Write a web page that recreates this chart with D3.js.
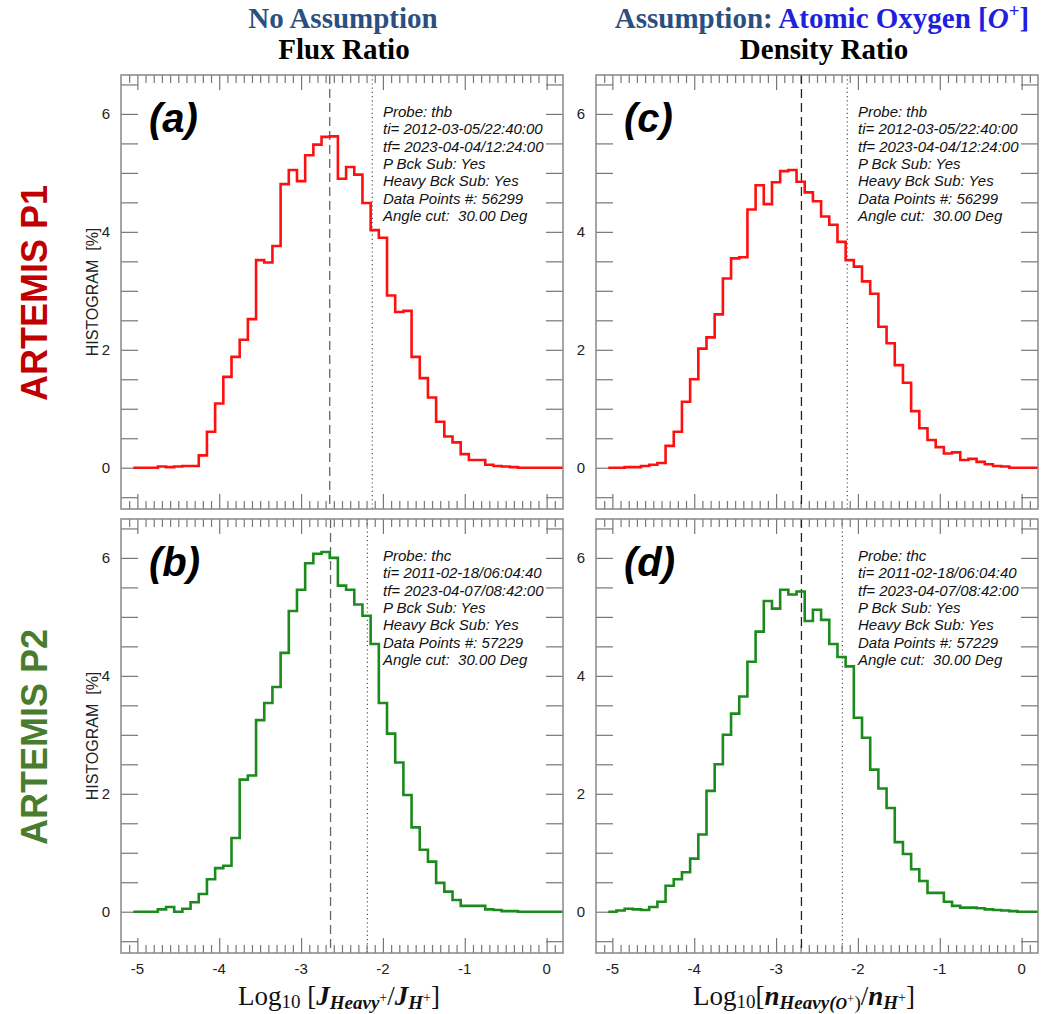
<!DOCTYPE html>
<html>
<head>
<meta charset="utf-8">
<script src="https://cdn.jsdelivr.net/npm/d3@7"></script>
<style>
  body { margin: 0; background: #fff; }
  svg { display: block; }
</style>
</head>
<body>
<div id="chart"></div>
<script>
// =========================
// DATA
// =========================
const binCenters = [
  -5.0, -4.9, -4.8, -4.7, -4.6, -4.5, -4.4, -4.3, -4.2, -4.1,
  -4.0, -3.9, -3.8, -3.7, -3.6, -3.5, -3.4, -3.3, -3.2, -3.1,
  -3.0, -2.9, -2.8, -2.7, -2.6, -2.5, -2.4, -2.3, -2.2, -2.1,
  -2.0, -1.9, -1.8, -1.7, -1.6, -1.5, -1.4, -1.3, -1.2, -1.1,
  -1.0, -0.9, -0.8, -0.7, -0.6, -0.5, -0.4, -0.3, -0.2, -0.1,
  0.0, 0.1, 0.2
];
const binWidth = 0.1;

// (a) P1 flux ratio
const histA = [
  0, 0, 0, 0.02, 0.01, 0.02, 0.03, 0.03, 0.21, 0.61,
  1.09, 1.54, 1.88, 2.17, 2.52, 3.52, 3.48, 3.76, 4.81, 5.05,
  4.86, 5.30, 5.48, 5.61, 5.62, 4.90, 5.10, 4.97, 4.49, 4.03,
  3.90, 2.92, 2.64, 2.66, 1.88, 1.52, 1.19, 0.78, 0.53, 0.43,
  0.23, 0.13, 0.13, 0.05, 0.03, 0.02, 0.01, 0, 0, 0,
  0, 0, 0
];
// (b) P2 flux ratio
const histB = [
  0, 0, 0, 0.04, 0.08, 0, 0.05, 0.16, 0.30, 0.55,
  0.74, 0.78, 1.25, 2.24, 2.31, 3.25, 3.54, 3.81, 4.39, 5.10,
  5.46, 5.91, 6.07, 6.10, 6.00, 5.53, 5.46, 5.21, 5.02, 4.54,
  3.54, 3.02, 2.53, 1.98, 1.43, 1.05, 0.85, 0.49, 0.34, 0.20,
  0.10, 0.10, 0.10, 0.04, 0.03, 0.01, 0.01, 0, 0, 0,
  0, 0, 0
];
// (c) P1 density ratio
const histC = [
  0, 0, 0.01, 0.01, 0.03, 0.05, 0.08, 0.37, 0.61, 1.12,
  1.50, 2.02, 2.21, 2.60, 3.21, 3.55, 3.57, 4.38, 4.79, 4.47,
  4.84, 5.03, 5.05, 4.85, 4.67, 4.52, 4.26, 4.12, 3.83, 3.52,
  3.41, 3.16, 2.95, 2.39, 2.11, 1.74, 1.44, 0.96, 0.67, 0.47,
  0.35, 0.24, 0.26, 0.13, 0.15, 0.10, 0.06, 0.03, 0.02, 0,
  0, 0, 0
];
// (d) P2 density ratio
const histD = [
  0, 0.02, 0.05, 0.04, 0.03, 0.08, 0.17, 0.44, 0.55, 0.67,
  0.90, 1.31, 2.05, 2.50, 3.00, 3.36, 3.65, 4.24, 4.75, 5.27,
  5.14, 5.46, 5.38, 5.43, 4.93, 5.12, 4.95, 4.54, 4.32, 4.16,
  3.29, 2.95, 2.41, 2.09, 1.76, 1.18, 0.98, 0.72, 0.52, 0.32,
  0.32, 0.17, 0.10, 0.07, 0.07, 0.06, 0.04, 0.03, 0.02, 0.01,
  0, 0, 0
];

// vertical reference lines (a, b, c, d)
const dashedX = [-2.65, -2.64, -2.69, -2.69];
const dottedX = [-2.13, -2.19, -2.13, -2.19];

const xMajorTicks = [-5, -4, -3, -2, -1, 0];
const xMinorTicks = [
  -5.1, -4.9, -4.8, -4.7, -4.6, -4.5, -4.4, -4.3, -4.2, -4.1,
  -3.9, -3.8, -3.7, -3.6, -3.5, -3.4, -3.3, -3.2, -3.1,
  -2.9, -2.8, -2.7, -2.6, -2.5, -2.4, -2.3, -2.2, -2.1,
  -1.9, -1.8, -1.7, -1.6, -1.5, -1.4, -1.3, -1.2, -1.1,
  -0.9, -0.8, -0.7, -0.6, -0.5, -0.4, -0.3, -0.2, -0.1, 0.1
];
const yTicks = [-0.5, 0, 0.5, 1, 1.5, 2, 2.5, 3, 3.5, 4, 4.5, 5, 5.5, 6, 6.5];
const yLabelTicks = [0, 2, 4, 6];

const infoP1 = [
  "Probe: thb",
  "ti= 2012-03-05/22:40:00",
  "tf= 2023-04-04/12:24:00",
  "P Bck Sub: Yes",
  "Heavy Bck Sub: Yes",
  "Data Points #: 56299",
  "Angle cut:  30.00 Deg"
];
const infoP2 = [
  "Probe: thc",
  "ti= 2011-02-18/06:04:40",
  "tf= 2023-04-07/08:42:00",
  "P Bck Sub: Yes",
  "Heavy Bck Sub: Yes",
  "Data Points #: 57229",
  "Angle cut:  30.00 Deg"
];

// =========================
// LAYOUT
// =========================
const W = 1047, H = 1014;
const panelW = 442, panelH = 434;
const colX = [121, 596];
const rowY = [75, 519];

const RED = "#ff1010";
const GREEN = "#1c8a1c";

const panels = [
  { id: "a", col: 0, row: 0, values: histA, color: RED,   dash: dashedX[0], dot: dottedX[0], info: infoP1, dashColor: "#666" },
  { id: "b", col: 0, row: 1, values: histB, color: GREEN, dash: dashedX[1], dot: dottedX[1], info: infoP2, dashColor: "#666" },
  { id: "c", col: 1, row: 0, values: histC, color: RED,   dash: dashedX[2], dot: dottedX[2], info: infoP1, dashColor: "#222" },
  { id: "d", col: 1, row: 1, values: histD, color: GREEN, dash: dashedX[3], dot: dottedX[3], info: infoP2, dashColor: "#222" }
];

const svg = d3.select("#chart")
  .append("svg")
  .attr("width", W)
  .attr("height", H)
  .style("font-family", "'Liberation Sans', Arial, sans-serif");

const x = d3.scaleLinear().domain([-5.2, 0.2]).range([0, panelW]);
const y = d3.scaleLinear().domain([-0.7, 6.66]).range([panelH, 0]);

const stepLine = d3.line()
  .x(d => x(d.x0))
  .y(d => y(d.v))
  .curve(d3.curveStepAfter);

// =========================
// PANELS
// =========================
panels.forEach(p => {
  const g = svg.append("g")
    .attr("transform", `translate(${colX[p.col]},${rowY[p.row]})`);

  g.append("clipPath")
    .attr("id", `clip-${p.id}`)
    .append("rect")
    .attr("width", panelW)
    .attr("height", panelH);

  // ticks (all pointing inward)
  const tickStyle = sel => {
    sel.select(".domain").remove();
    sel.selectAll("line").attr("stroke", "#777").attr("stroke-width", 1.2);
    sel.selectAll("text").remove();
  };

  g.append("g").call(d3.axisLeft(y).tickValues(yTicks).tickSize(-17)).call(tickStyle);
  g.append("g").attr("transform", `translate(${panelW},0)`)
    .call(d3.axisRight(y).tickValues(yTicks).tickSize(-17)).call(tickStyle);

  g.append("g").call(d3.axisTop(x).tickValues(xMajorTicks).tickSize(-15)).call(tickStyle);
  g.append("g").call(d3.axisTop(x).tickValues(xMinorTicks).tickSize(-8)).call(tickStyle);
  g.append("g").attr("transform", `translate(0,${panelH})`)
    .call(d3.axisBottom(x).tickValues(xMajorTicks).tickSize(-15)).call(tickStyle);
  g.append("g").attr("transform", `translate(0,${panelH})`)
    .call(d3.axisBottom(x).tickValues(xMinorTicks).tickSize(-8)).call(tickStyle);

  // y tick labels
  g.selectAll(".ylab")
    .data(yLabelTicks)
    .enter()
    .append("text")
    .attr("x", -11)
    .attr("y", d => y(d))
    .attr("dy", "0.35em")
    .attr("text-anchor", "end")
    .style("font-size", "15px")
    .style("fill", "#222")
    .text(d => d);

  // x tick labels, bottom row only
  if (p.row === 1) {
    g.selectAll(".xlab")
      .data(xMajorTicks)
      .enter()
      .append("text")
      .attr("x", d => x(d))
      .attr("y", panelH + 21)
      .attr("text-anchor", "middle")
      .style("font-size", "15px")
      .style("fill", "#222")
      .text(d => d < 0 ? "-" + Math.abs(d) : d);
  }

  // reference lines
  g.append("line")
    .attr("x1", x(p.dash)).attr("x2", x(p.dash))
    .attr("y1", 0).attr("y2", panelH)
    .attr("stroke", p.dashColor)
    .attr("stroke-width", 1.3)
    .attr("stroke-dasharray", "9,5");

  g.append("line")
    .attr("x1", x(p.dot)).attr("x2", x(p.dot))
    .attr("y1", 0).attr("y2", panelH)
    .attr("stroke", "#555")
    .attr("stroke-width", 1.2)
    .attr("stroke-dasharray", "1.2,3");

  // histogram steps
  const pts = binCenters.map((c, i) => ({ x0: c - binWidth / 2, v: p.values[i] }));
  const last = binCenters.length - 1;
  pts.push({ x0: binCenters[last] + binWidth / 2, v: p.values[last] });

  g.append("path")
    .datum(pts)
    .attr("clip-path", `url(#clip-${p.id})`)
    .attr("fill", "none")
    .attr("stroke", p.color)
    .attr("stroke-width", 2.6)
    .attr("d", stepLine);

  // frame
  g.append("rect")
    .attr("width", panelW)
    .attr("height", panelH)
    .attr("fill", "none")
    .attr("stroke", "#888")
    .attr("stroke-width", 1.5);

  // panel letter
  g.append("text")
    .attr("x", 28)
    .attr("y", 57)
    .style("font-size", "40px")
    .style("font-weight", "bold")
    .style("font-style", "italic")
    .style("fill", "#000")
    .text(`(${p.id})`);

  // info block
  const info = g.append("text")
    .attr("x", 262)
    .attr("y", 42)
    .style("font-size", "15px")
    .style("font-style", "italic")
    .style("fill", "#111")
    .style("white-space", "pre");

  info.selectAll("tspan")
    .data(p.info)
    .enter()
    .append("tspan")
    .attr("x", 262)
    .attr("dy", (d, i) => i === 0 ? 0 : 17.3)
    .text(d => d);

  // y axis title, left column only
  if (p.col === 0) {
    svg.append("text")
      .attr("transform", `translate(${colX[0] - 23},${rowY[p.row] + panelH / 2}) rotate(-90)`)
      .attr("text-anchor", "middle")
      .style("font-size", "16px")
      .style("fill", "#222")
      .style("white-space", "pre")
      .text("HISTOGRAM  [%]");
  }
});

// =========================
// ROW LABELS
// =========================
const rowLabels = [
  { text: "ARTEMIS P1", color: "#c00000" },
  { text: "ARTEMIS P2", color: "#4a7c2e" }
];
rowLabels.forEach((r, i) => {
  svg.append("text")
    .attr("transform", `translate(47,${rowY[i] + panelH / 2 + 1}) rotate(-90)`)
    .attr("text-anchor", "middle")
    .style("font-size", "36px")
    .style("font-weight", "bold")
    .style("fill", r.color)
    .text(r.text);
});

// =========================
// COLUMN TITLES
// =========================
const serif = "'Liberation Serif', 'Times New Roman', serif";
const TITLE_BLUE = "#2b4f7e";
const OXY_BLUE = "#1f1fe0";

function titleText(cx, cy) {
  return svg.append("text")
    .attr("x", cx)
    .attr("y", cy)
    .attr("text-anchor", "middle")
    .style("font-family", serif)
    .style("font-weight", "bold")
    .style("font-size", "29px");
}

titleText(343, 28).style("fill", TITLE_BLUE).text("No Assumption");
titleText(344, 59).style("fill", "#000").text("Flux Ratio");

const t2 = titleText(822, 28);
t2.append("tspan").style("fill", TITLE_BLUE).text("Assumption: ");
t2.append("tspan").style("fill", OXY_BLUE).text("Atomic Oxygen [");
t2.append("tspan").style("fill", OXY_BLUE).style("font-style", "italic").text("O");
t2.append("tspan").style("fill", OXY_BLUE).style("font-size", "19px").attr("dy", -11).text("+");
t2.append("tspan").style("fill", OXY_BLUE).attr("dy", 11).text("]");
titleText(824, 59).style("fill", "#000").text("Density Ratio");

// =========================
// X AXIS TITLES
// =========================
function mathLabel(cx, parts) {
  const t = svg.append("text")
    .attr("x", cx)
    .attr("y", 1005)
    .attr("text-anchor", "middle")
    .style("font-family", serif)
    .style("font-size", "27px")
    .style("fill", "#111");
  parts.forEach(pt => {
    const s = t.append("tspan").text(pt.t);
    if (pt.size) s.style("font-size", pt.size + "px");
    if (pt.dy) s.attr("dy", pt.dy);
    if (pt.bi) s.style("font-weight", "bold").style("font-style", "italic");
  });
}

mathLabel(339, [
  { t: "Log" },
  { t: "10", size: 19, dy: 3 },
  { t: " [", dy: -3 },
  { t: "J", bi: true },
  { t: "Heavy", size: 19, dy: 4, bi: true },
  { t: "+", size: 14, dy: -7 },
  { t: "/", dy: 3 },
  { t: "J", bi: true },
  { t: "H", size: 19, dy: 4, bi: true },
  { t: "+", size: 14, dy: -7 },
  { t: "]", dy: 3 }
]);

mathLabel(804, [
  { t: "Log" },
  { t: "10", size: 19, dy: 3 },
  { t: "[", dy: -3 },
  { t: "n", bi: true },
  { t: "Heavy(", size: 19, dy: 4, bi: true },
  { t: "O", size: 16, bi: true },
  { t: "+", size: 13, dy: -6 },
  { t: ")", size: 19, dy: 6 },
  { t: "/", dy: -4 },
  { t: "n", bi: true },
  { t: "H", size: 19, dy: 4, bi: true },
  { t: "+", size: 14, dy: -7 },
  { t: "]", dy: 3 }
]);
</script>
</body>
</html>
